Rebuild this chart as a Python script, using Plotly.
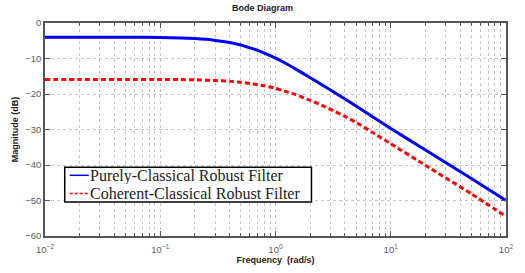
import plotly.graph_objects as go

freq = [0.01, 0.02, 0.05, 0.1, 0.15, 0.2, 0.3, 0.4, 0.5, 0.6, 0.7, 0.8, 1, 1.2, 1.5, 2, 2.5, 3, 4, 5, 7, 10, 20, 50, 100]
purely_db = [-4.0, -4.0, -4.0, -4.1, -4.2, -4.4, -4.9, -5.5, -6.2, -7.0, -7.7, -8.5, -9.9, -11.2, -13.0, -15.4, -17.3, -18.9,
             -21.4, -23.4, -26.5, -29.7, -35.8, -43.8, -50.0]
coherent_db = [-15.9, -15.9, -15.9, -15.9, -15.95, -16.0, -16.2, -16.4, -16.7, -17.0, -17.4, -17.7, -18.4, -19.2, -20.2,
               -21.8, -23.1, -24.3, -26.3, -28.0, -30.9, -34.0, -40.1, -48.1, -54.5]

series_names = ["Purely-Classical Robust Filter", "Coherent-Classical Robust Filter"]
x_major = [0.01, 0.1, 1, 10, 100]
x_major_text = ["10<sup>−2</sup>", "10<sup>−1</sup>", "10<sup>0</sup>", "10<sup>1</sup>", "10<sup>2</sup>"]
x_minor = [m * d for d in [0.01, 0.1, 1, 10] for m in range(2, 10)]
y_ticks = [0, -10, -20, -30, -40, -50, -60]
y_text = ["0", "−10", "−20", "−30", "−40", "−50", "−60"]

BLUE = "#0000ff"
RED = "#ff0000"
RED_DASH = "5px,3px"

fig = go.Figure()
fig.add_trace(go.Scatter(x=freq, y=purely_db, mode="lines", name=series_names[0],
                         line=dict(color=BLUE, width=3, shape="spline", smoothing=0.4)))
fig.add_trace(go.Scatter(x=freq, y=coherent_db, mode="lines", name=series_names[1],
                         line=dict(color=RED, width=3, dash=RED_DASH, shape="spline", smoothing=0.4)))

# Legend box drawn in the MATLAB style (compact, boxed, serif text)
leg_x0, leg_x1, leg_y0, leg_y1 = 0.0428, 0.578, 0.160, 0.323
row_y = [0.285, 0.200]
sample_x0, sample_x1, text_x = 0.0536, 0.0949, 0.0955
fig.add_shape(type="rect", xref="paper", yref="paper", x0=leg_x0, x1=leg_x1, y0=leg_y0, y1=leg_y1,
              line=dict(color="black", width=1.5), fillcolor="white", layer="above")
for name, color, dash, ry in zip(series_names, [BLUE, RED], ["solid", "3px,2px"], row_y):
    fig.add_shape(type="line", xref="paper", yref="paper", x0=sample_x0, x1=sample_x1, y0=ry, y1=ry,
                  line=dict(color=color, width=1.5, dash=dash), layer="above")
    fig.add_annotation(text=name, xref="paper", yref="paper", x=text_x, y=ry, xanchor="left", yanchor="middle",
                       showarrow=False, borderpad=0, height=17, valign="middle",
                       font=dict(family="Liberation Serif, Times New Roman", size=16, color="#222"))

grid_col = "#c4c4c4"
axis_font = dict(family="Liberation Sans, Arial", size=9.5, color="#5a5a5a")
title_font = dict(family="Liberation Sans, Arial", size=9, color="#1a1a1a")
fig.update_layout(
    width=525, height=273,
    margin=dict(l=45, r=19, t=23, b=37, autoexpand=False),
    paper_bgcolor="white", plot_bgcolor="white",
    title=dict(text="<b>Bode Diagram</b>", x=0.5, xanchor="center", y=1 - 7.5 / 273, yanchor="middle",
               font=title_font, automargin=False),
    showlegend=False,
)
fig.update_xaxes(type="log", range=[-2, 2], tickvals=x_major, ticktext=x_major_text,
                 ticks="inside", ticklen=5, tickcolor="#555", tickfont=axis_font, ticklabelstandoff=4,
                 showline=True, linecolor="#555", linewidth=1.5, mirror="ticks",
                 showgrid=True, gridcolor=grid_col, griddash="dot", gridwidth=1,
                 minor=dict(tickvals=x_minor, ticks="inside", ticklen=3, tickcolor="#555",
                            showgrid=True, gridcolor=grid_col, griddash="dot", gridwidth=1),
                 title=dict(text="<b>Frequency  (rad/s)</b>", standoff=0, font=title_font),
                 automargin=False, zeroline=False)
fig.update_yaxes(range=[-60, 0], tickvals=y_ticks, ticktext=y_text,
                 ticks="inside", ticklen=5, tickcolor="#555", tickfont=axis_font,
                 showline=True, linecolor="#555", linewidth=1.5, mirror="ticks",
                 showgrid=True, gridcolor=grid_col, griddash="dot", gridwidth=1,
                 title=dict(text="<b>Magnitude (dB)</b>", standoff=5, font=title_font),
                 automargin=False, zeroline=False)

fig.write_html("out.html", config={"displayModeBar": False},
               post_script="document.body.style.margin='0';document.body.style.padding='0';")
